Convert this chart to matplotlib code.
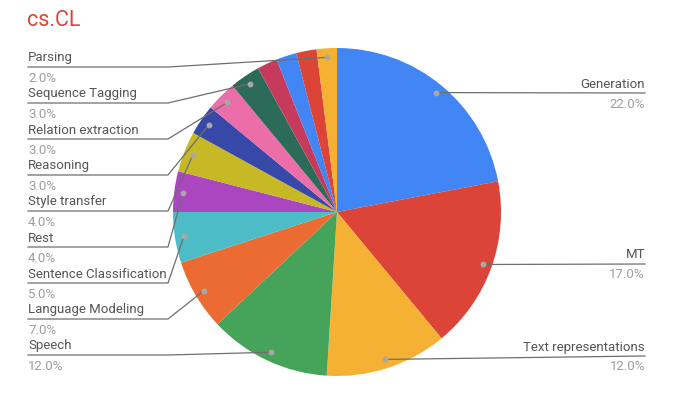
import matplotlib
matplotlib.use("Agg")
import matplotlib.pyplot as plt
import numpy as np

plt.rcParams['font.family'] = ['Roboto', 'DejaVu Sans']

categories = ["Generation", "MT", "Text representations", "Speech", "Language Modeling",
              "Sentence Classification", "Rest", "Style transfer", "Reasoning",
              "Relation extraction", "Sequence Tagging", "", "", "", "Parsing"]
values = [22, 17, 12, 12, 7, 5, 4, 4, 3, 3, 3, 2, 2, 2, 2]
colors = ["#4285F4", "#DB4437", "#F4B133", "#46A35A", "#EC6B32", "#4CBCC6", "#AA46BF",
          "#C7B826", "#3848A8", "#EC6EA8", "#2C6B58", "#C63A5C", "#4285F4", "#DB4437", "#F4B133"]

W, H = 675, 400
fig = plt.figure(figsize=(6.75, 4.0), dpi=100)
ax = fig.add_axes([0, 0, 1, 1])
ax.set_xlim(0, W)
ax.set_ylim(0, H)
ax.set_aspect('equal')
ax.axis('off')

def Y(y):
    return H - y

cx, cy, R = 337, Y(212), 164
wedges, _ = ax.pie(values, colors=colors, startangle=90, counterclock=False,
                   center=(cx, cy), radius=R, frame=True,
                   wedgeprops=dict(linewidth=0))
ax.set_xlim(0, W)
ax.set_ylim(0, H)
ax.axis('off')

fig.text(27 / W, 1 - 21 / H, "cs.CL", color="#DB4437", fontsize=15.5,
         va='center', ha='left')

def dot_pos(i):
    w = wedges[i]
    mid = np.deg2rad((w.theta1 + w.theta2) / 2)
    r = 0.945 * R
    return cx + r * np.cos(mid), cy + r * np.sin(mid)

lab_c = "#555555"
pct_c = "#9E9E9E"
line_c = "#6E6E6E"
fs = 9.5

# left labels: (index, line y in image px)
left = [(14, 67), (10, 103), (9, 139), (8, 175), (7, 211), (6, 247), (5, 283), (4, 319), (3, 355)]
for idx, ly in left:
    dx, dy = dot_pos(idx)
    ax.plot([28, 168, dx], [Y(ly), Y(ly), dy], color=line_c, lw=0.9, zorder=3)
    ax.plot([dx], [dy], 'o', ms=3.2, color="#A8A8A8", zorder=4)
    ax.text(28, Y(ly - 9), categories[idx], color=lab_c, fontsize=fs, va='center', ha='left')
    ax.text(28, Y(ly + 11), f"{values[idx]:.1f}%", color=pct_c, fontsize=fs, va='center', ha='left')

right = [(0, 93), (1, 264), (2, 356)]
for idx, ly in right:
    dx, dy = dot_pos(idx)
    ax.plot([dx, 645], [dy, Y(ly)], color=line_c, lw=0.9, zorder=3)
    ax.plot([dx], [dy], 'o', ms=3.2, color="#A8A8A8", zorder=4)
    ax.text(645, Y(ly - 9), categories[idx], color=lab_c, fontsize=fs, va='center', ha='right')
    ax.text(645, Y(ly + 11), f"{values[idx]:.1f}%", color=pct_c, fontsize=fs, va='center', ha='right')

fig.savefig("out.png", dpi=100, facecolor="white")
